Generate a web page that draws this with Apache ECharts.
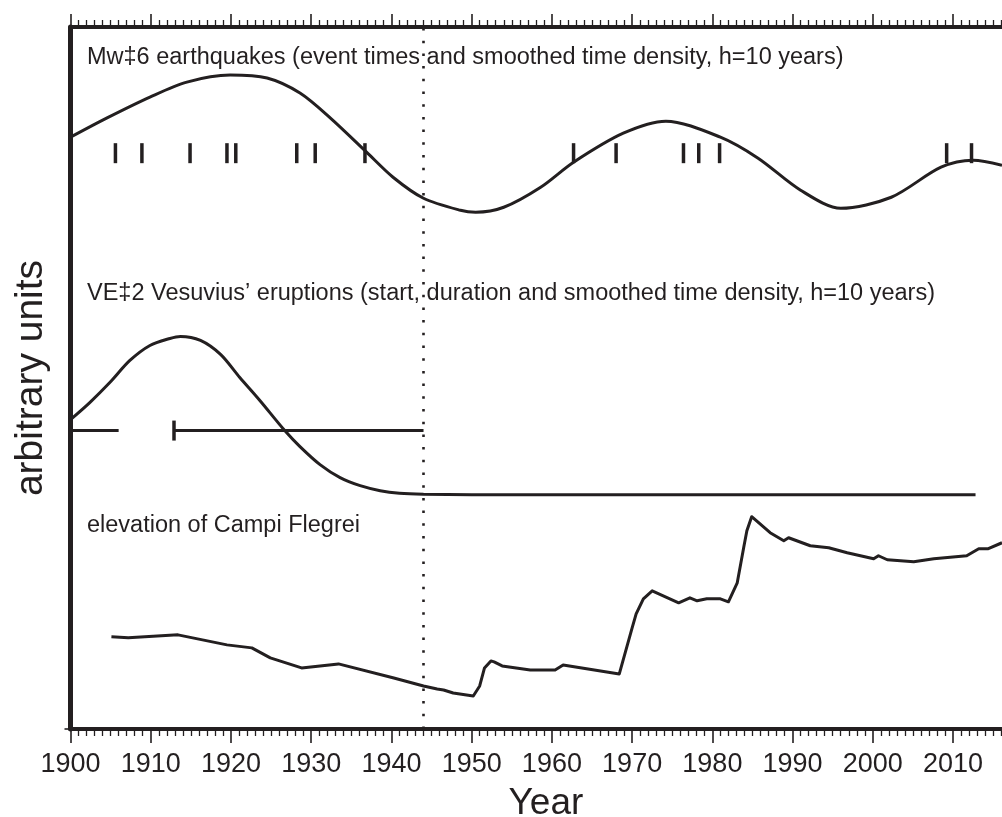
<!DOCTYPE html>
<html lang="en">

<head>
    <meta charset="utf-8">
    <style type="text/css">
    body {
        margin: 0;
        background-color: #fff
    }

    #echarts {
        width: 1002px;
        height: 817px;
    }
    </style>
</head>

<body>
    <div id="echarts"></div>
    <script type="text/javascript" src="https://cdn.jsdelivr.net/npm/echarts@6/dist/echarts.min.js"></script>
    <script type="text/javascript">
    /* Mw>=6 earthquakes: event years and smoothed density (arbitrary units) */
    var quakeYears = [1905.6, 1908.9, 1914.9, 1919.5, 1920.6, 1928.2, 1930.5, 1936.7,
        1962.7, 1968.0, 1976.4, 1978.3, 1980.9, 2009.2, 2012.3];
    var quakeTickLevel = 57.5;
    var quakeDensity = [
        [1900, 59.1], [1904.5, 61.0], [1909.9, 63.1], [1914.5, 64.6], [1919.9, 65.3],
        [1924.5, 65.0], [1928.6, 63.5], [1932.4, 61.0], [1936.9, 57.6], [1940.2, 55.1],
        [1944, 53.0], [1948.6, 51.8], [1950.5, 51.6], [1954, 52.1], [1958.6, 54.1],
        [1962.7, 56.6], [1968.9, 59.5], [1974.2, 60.7], [1981, 59.1], [1985.7, 57.0],
        [1991, 53.8], [1996, 52.0], [2002.3, 53.1], [2008.5, 56.1], [2012.5, 56.8],
        [2016.1, 56.3]
    ];

    /* VEI>=2 Vesuvius eruptions: start / end and smoothed density */
    var eruptions = [
        [1895, 1906.0],
        [1912.9, 1944.0]
    ];
    var eruptionLevel = 29.8;
    var vesuviusDensity = [
        [1900, 30.9], [1902.4, 32.6], [1904.9, 34.6], [1907.4, 36.8], [1909.9, 38.3],
        [1912.4, 39.0], [1913.7, 39.2], [1916.2, 38.8], [1918.7, 37.4], [1921.1, 35.1],
        [1923.6, 32.8], [1926.7, 29.8], [1928.6, 28.2], [1931.1, 26.4], [1933.6, 25.1],
        [1936.1, 24.3], [1938.6, 23.8], [1941, 23.55], [1944, 23.45], [1950, 23.4],
        [1955, 23.4], [2012.8, 23.4]
    ];

    /* elevation of Campi Flegrei (arbitrary units) */
    var elevation = [
        [1905.1, 9.2], [1907.2, 9.1], [1913.4, 9.4], [1919.5, 8.4], [1922.6, 8.1],
        [1924.9, 7.1], [1928.8, 6.1], [1933.4, 6.5], [1940.3, 5.1], [1944.0, 4.3],
        [1945.7, 4.0], [1946.5, 3.9], [1947.7, 3.6], [1950.2, 3.3], [1951.0, 4.3],
        [1951.6, 6.1], [1952.4, 6.8], [1952.8, 6.7], [1953.8, 6.3], [1957.3, 5.9],
        [1960.4, 5.9], [1961.4, 6.4], [1968.4, 5.5], [1970.0, 10.1], [1970.5, 11.5],
        [1971.4, 13.0], [1972.5, 13.8], [1975.8, 12.6], [1977.2, 13.1], [1978.1, 12.8],
        [1979.3, 13.0], [1981.0, 13.0], [1982.0, 12.7], [1983.1, 14.6], [1983.9, 18.1],
        [1984.3, 19.8], [1984.9, 21.2], [1987.2, 19.6], [1988.9, 18.8], [1989.5, 19.1],
        [1992.2, 18.3], [1994.5, 18.1], [1996.8, 17.6], [2000.1, 17.0], [2000.7, 17.3],
        [2001.8, 16.9], [2005.1, 16.7], [2007.6, 17.0], [2011.7, 17.3], [2013.2, 18.0],
        [2014.4, 18.0], [2016.1, 18.6]
    ];

    var markYear = 1944;

    var ink = '#231f20';
    var font = '"Liberation Sans", Arial, Helvetica, sans-serif';

    var myEcharts = echarts.init(document.getElementById('echarts'));

    var eruptionSeries = eruptions.map(function(e) {
        return {
            type: 'line',
            xAxisIndex: 0,
            symbol: 'none',
            silent: true,
            lineStyle: { color: ink, width: 3 },
            data: [[e[0], eruptionLevel], [e[1], eruptionLevel]]
        };
    });

    var option = {
        animation: false,
        grid: {
            left: 70.5,
            top: 27,
            width: 962.8,
            bottom: 88,
            containLabel: false,
            outerBoundsMode: 'none'
        },
        xAxis: [{
            type: 'value',
            position: 'bottom',
            min: 1900,
            max: 2020,
            interval: 10,
            name: 'Year',
            nameLocation: 'middle',
            nameGap: 56,
            nameTextStyle: { fontSize: 37, color: ink, fontFamily: font, padding: [0, 12, 0, 0] },
            axisLine: { lineStyle: { color: ink, width: 4 } },
            axisTick: { length: 14, lineStyle: { color: ink, width: 1.6 } },
            minorTick: { show: true, splitNumber: 10, length: 7, lineStyle: { color: ink, width: 1.3 } },
            splitLine: { show: false },
            axisLabel: {
                fontSize: 27,
                color: ink,
                fontFamily: font,
                margin: 22,
                formatter: function(v) {
                    return v % 10 === 0 && v < 2020 ? String(v) : '';
                }
            }
        }, {
            type: 'value',
            position: 'top',
            min: 1900,
            max: 2020,
            interval: 10,
            axisLine: { lineStyle: { color: ink, width: 4 } },
            axisTick: { length: 13, lineStyle: { color: ink, width: 1.6 } },
            minorTick: { show: true, splitNumber: 10, length: 7, lineStyle: { color: ink, width: 1.3 } },
            splitLine: { show: false },
            axisLabel: { show: false }
        }],
        yAxis: {
            type: 'value',
            min: 0,
            max: 70.1,
            name: 'arbitrary units',
            nameLocation: 'middle',
            nameGap: 20,
            nameTextStyle: { fontSize: 39, color: ink, fontFamily: font },
            axisLine: { show: true, lineStyle: { color: ink, width: 5 } },
            axisTick: { show: true, customValues: [0], length: 6, lineStyle: { color: ink, width: 1.6 } },
            axisLabel: { show: false },
            splitLine: { show: false }
        },
        graphic: [{
            type: 'text',
            left: 87,
            top: 46,
            style: {
                text: 'Mw\u20216 earthquakes (event times and smoothed time density, h=10 years)',
                fontSize: 23.5,
                fontFamily: font,
                fill: ink
            }
        }, {
            type: 'text',
            left: 87,
            top: 282,
            style: {
                text: 'VE\u20212 Vesuvius\u2019 eruptions (start, duration and smoothed time density, h=10 years)',
                fontSize: 23.5,
                fontFamily: font,
                fill: ink
            }
        }, {
            type: 'text',
            left: 87,
            top: 514,
            style: {
                text: 'elevation of Campi Flegrei',
                fontSize: 23.5,
                fontFamily: font,
                fill: ink
            }
        }],
        series: [{
            name: 'quake density',
            type: 'line',
            smooth: 0.3,
            symbol: 'none',
            lineStyle: { color: ink, width: 3 },
            data: quakeDensity
        }, {
            name: 'quake events',
            type: 'scatter',
            symbol: 'rect',
            symbolSize: [3.5, 20],
            itemStyle: { color: ink, opacity: 1 },
            data: quakeYears.map(function(y) {
                return [y, quakeTickLevel];
            })
        }, {
            name: 'vesuvius density',
            type: 'line',
            smooth: 0.3,
            symbol: 'none',
            lineStyle: { color: ink, width: 3 },
            data: vesuviusDensity
        }, {
            name: 'eruption starts',
            type: 'scatter',
            symbol: 'rect',
            symbolSize: [3.5, 20],
            itemStyle: { color: ink, opacity: 1 },
            data: eruptions.map(function(e) {
                return [e[0], eruptionLevel];
            })
        }, {
            name: 'elevation',
            type: 'line',
            symbol: 'none',
            lineStyle: { color: ink, width: 3, join: 'round' },
            data: elevation,
            markLine: {
                silent: true,
                symbol: ['none', 'none'],
                label: { show: false },
                lineStyle: { color: ink, width: 2.6, type: [2.5, 10.2], cap: 'butt' },
                data: [{ xAxis: markYear }]
            }
        }].concat(eruptionSeries)
    };

    myEcharts.setOption(option);
    </script>
</body>

</html>
